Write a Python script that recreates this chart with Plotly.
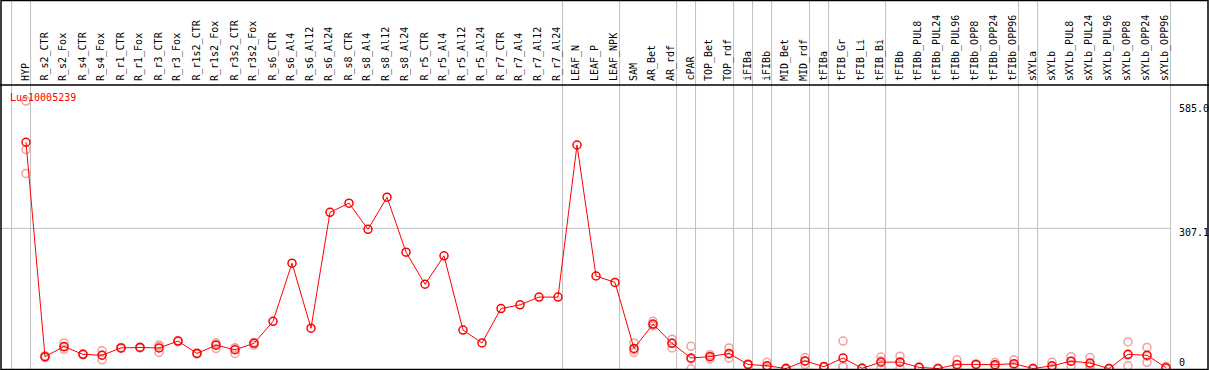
import plotly.graph_objects as go

W, H = 1209, 370

samples = ["HYP", "R_s2_CTR", "R_s2_Fox", "R_s4_CTR", "R_s4_Fox", "R_r1_CTR", "R_r1_Fox",
           "R_r3_CTR", "R_r3_Fox", "R_r1s2_CTR", "R_r1s2_Fox", "R_r3s2_CTR", "R_r3s2_Fox",
           "R_s6_CTR", "R_s6_Al4", "R_s6_Al12", "R_s6_Al24", "R_s8_CTR", "R_s8_Al4", "R_s8_Al12",
           "R_s8_Al24", "R_r5_CTR", "R_r5_Al4", "R_r5_Al12", "R_r5_Al24", "R_r7_CTR", "R_r7_Al4",
           "R_r7_Al12", "R_r7_Al24", "LEAF_N", "LEAF_P", "LEAF_NPK", "SAM", "AR_Bet", "AR_rdf",
           "cPAR", "TOP_Bet", "TOP_rdf", "iFIBa", "iFIBb", "MID_Bet", "MID_rdf", "tFIBa",
           "tFIB_Gr", "tFIB_Li", "tFIB_Bi", "tFIBb", "tFIBb_PUL8", "tFIBb_PUL24", "tFIBb_PUL96",
           "tFIBb_OPP8", "tFIBb_OPP24", "tFIBb_OPP96", "sXYLa", "sXYLb", "sXYLb_PUL8",
           "sXYLb_PUL24", "sXYLb_PUL96", "sXYLb_OPP8", "sXYLb_OPP24", "sXYLb_OPP96"]

mean_values = [495, 27, 49, 32, 30, 46, 47, 46, 61, 34, 52, 42, 56,
               104, 231, 89, 342, 362, 305, 375, 255, 185, 247, 85, 57, 132, 140, 157, 157,
               489, 203, 189, 45, 98, 56, 24, 27, 34, 10, 7, 1, 17.5, 5,
               24, 1.5, 15, 15, 3.6, 1, 10, 10, 9.5, 11.5, 1, 7, 17, 13, 1, 32, 30, 3]

rep1 = [585, 25, 57, 32, 40, 46, 47, 52, 61, 34, 57, 46, 52,
        None, None, None, None, None, None, None, None, None, None, None, None, None, None, None, None,
        None, None, None, 57, 104, 65, 49.5, 31, 46, 10, 14.6, 1, 25, 5,
        61, 1, 26, 28, 3, 1, 20, 11, 14, 20, 1, 14.6, 27, 25, 1, 59, 47, 6]
rep2 = [479, 27, 43, 31, 20, 45, 46, 36, 60, 33, 45, 34, 58,
        None, None, None, None, None, None, None, None, None, None, None, None, None, None, None, None,
        None, None, None, 36, 96, 46, 0, 22, 24, 9, 1, 0, 10, 4,
        5, 2, 1, 1, 4, 1, 1, 9, 6, 5, 1, 1, 7, 5, 1, 7, 14.6, 1]
rep3 = [427, 29, 48, 33, 30, 47, 48, 50, 62, 35, 54, 46, 58,
        None, None, None, None, None, None, None, None, None, None, None, None, None, None, None, None,
        None, None, None, 42, 94, 57, 22, 28, 32, 11, 5, 2, 17, 6,
        6, 1.5, 18, 16, 4, 1, 9, 10, 8.5, 9.5, 1, 5.4, 17, 9, 1, 30, 28, 2]

# indices after which a group separator is drawn (-1 = before the first sample)
group_ends = [-1, 0, 28, 31, 34, 35, 37, 38, 39, 41, 42, 45, 52, 53, 60]

gene = "Lus10005239"
axis_ticks = [585.0, 307.1, 0]
axis_tick_text = ["585.0", "307.1", "0"]
grid_value = 307.1

# ---- layout geometry (pixels) ----
X0_PIX, STEP = 26, 19          # pixel of first sample, pixel step between samples
PLOT_TOP, PLOT_BOT = 85, 369   # plot area vertical extent
Y_MAX = 620

x_idx = list(range(len(samples)))
xr = [-X0_PIX / STEP, (W - X0_PIX) / STEP]


def py(p):
    return (H - p) / H


def px(p):
    return p / W


FONT = "DejaVu Sans Mono"
RED = "#ff0000"
PINK = "#f0a0a0"
GRAY = "#c0c0c0"

fig = go.Figure()

rx, ry = [], []
for reps in (rep1, rep2, rep3):
    for i, v in enumerate(reps):
        if v is not None:
            rx.append(i)
            ry.append(v)

fig.add_trace(go.Scatter(x=rx, y=ry, mode="markers",
                         marker=dict(symbol="circle-open", size=8, color=PINK,
                                     line=dict(width=1.5, color=PINK)),
                         hoverinfo="skip", cliponaxis=True))
fig.add_trace(go.Scatter(x=x_idx, y=mean_values, mode="lines+markers",
                         line=dict(color=RED, width=1),
                         marker=dict(symbol="circle-open", size=8, color=RED,
                                     line=dict(width=1.5, color=RED)),
                         text=samples, cliponaxis=True))

shapes = []
# group separators
for g in group_ends:
    shapes.append(dict(type="line", xref="x", yref="paper", x0=g + 0.24, x1=g + 0.24,
                       y0=py(PLOT_BOT + 1), y1=1, line=dict(color=GRAY, width=1), layer="below"))
# horizontal grid line
shapes.append(dict(type="line", xref="paper", yref="y", x0=0, x1=px(1171),
                   y0=grid_value, y1=grid_value, line=dict(color=GRAY, width=1), layer="below"))
# borders
shapes.append(dict(type="rect", xref="paper", yref="paper", x0=px(1), x1=px(1208),
                   y0=py(369.5), y1=py(0.5), line=dict(color="black", width=1.5)))
shapes.append(dict(type="line", xref="paper", yref="paper", x0=0, x1=1,
                   y0=py(PLOT_TOP), y1=py(PLOT_TOP), line=dict(color="black", width=1.5)))

annotations = []
for i, s in enumerate(samples):
    annotations.append(dict(x=i, y=py(83), xref="x", yref="paper", text=s, textangle=-90,
                            showarrow=False, xanchor="center", yanchor="bottom", xshift=-1,
                            font=dict(family=FONT, size=10, color="black")))
annotations.append(dict(x=px(8), y=py(97), xref="paper", yref="paper", text=gene,
                        showarrow=False, xanchor="left", yanchor="middle",
                        font=dict(family=FONT, size=10, color=RED)))
tick_shift = [-7, -4, 7]
for v, t, s in zip(axis_ticks, axis_tick_text, tick_shift):
    annotations.append(dict(x=px(1177), y=v, xref="paper", yref="y", text=t, showarrow=False,
                            xanchor="left", yanchor="middle", yshift=s,
                            font=dict(family=FONT, size=10, color="black")))

fig.update_layout(
    width=W, height=H, margin=dict(l=0, r=0, t=0, b=0),
    paper_bgcolor="white", plot_bgcolor="white", showlegend=False,
    xaxis=dict(range=xr, domain=[0, 1], visible=False, fixedrange=True),
    yaxis=dict(range=[0, Y_MAX], domain=[py(PLOT_BOT), py(PLOT_TOP)], visible=False,
               fixedrange=True),
    shapes=shapes, annotations=annotations,
)

fig.write_html("out.html", config={"displayModeBar": False},
               post_script="document.body.style.margin='0';document.body.style.overflow='hidden';")
